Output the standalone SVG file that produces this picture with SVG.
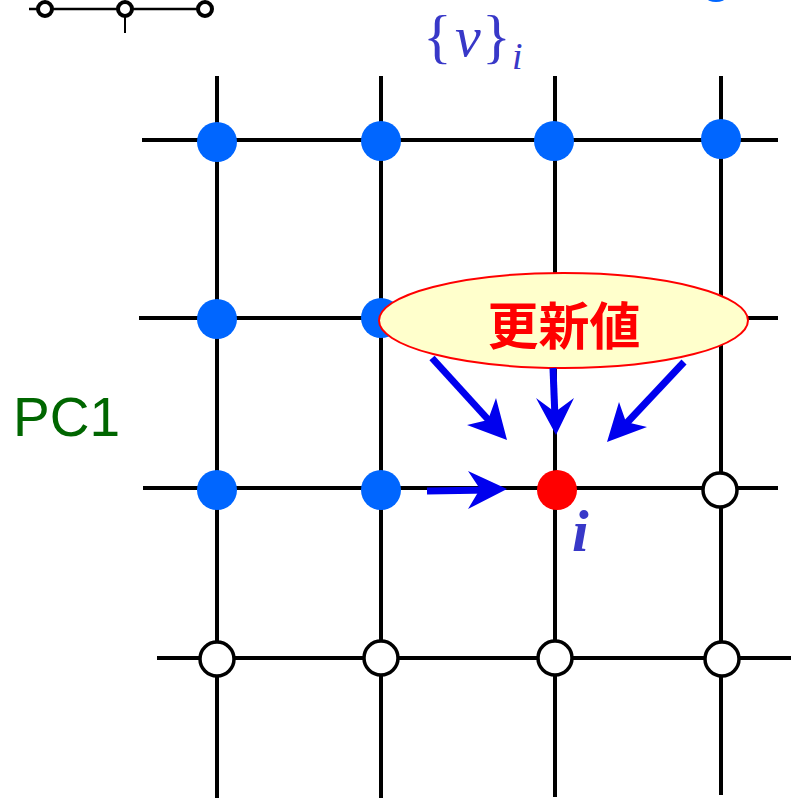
<svg xmlns="http://www.w3.org/2000/svg" width="791" height="799" viewBox="0 0 791 799">
<style>
.grid{stroke:#000;stroke-width:4;fill:none}
.blue{fill:#0066FF}
.open{fill:#fff;stroke:#000;stroke-width:3.5}
.arr{stroke:#0000EE;stroke-width:7;fill:none}
.head{fill:#0000EE}
.lbl{font-family:"Liberation Serif","Times New Roman",serif;fill:#3838C8}
</style>
<rect width="791" height="799" fill="#fff"/>
<g id="legend">
<line x1="29" y1="9" x2="205" y2="9" stroke="#000" stroke-width="2.5"/>
<line x1="125" y1="9" x2="125" y2="33" stroke="#000" stroke-width="2"/>
<circle cx="45" cy="9" r="7" fill="#fff" stroke="#000" stroke-width="4"/>
<circle cx="125" cy="9" r="7" fill="#fff" stroke="#000" stroke-width="4"/>
<circle cx="205" cy="9" r="7" fill="#fff" stroke="#000" stroke-width="4"/>
<circle cx="716" cy="-16" r="18" class="blue"/>
</g>
<g id="connectors">
<g class="grid">
<line x1="217" y1="76" x2="217" y2="798"/>
<line x1="381" y1="76" x2="381" y2="798"/>
<line x1="555" y1="76" x2="555" y2="797"/>
<line x1="721" y1="76" x2="721" y2="795"/>
<line x1="142" y1="140" x2="778" y2="140"/>
<line x1="139" y1="318" x2="778" y2="318"/>
<line x1="143" y1="488" x2="778" y2="488"/>
<line x1="157" y1="658" x2="791" y2="658"/>
</g>
</g>
<g id="nodes-row1">
<circle id="n11" cx="217" cy="142" r="20" class="blue"/>
<circle id="n12" cx="381" cy="141" r="20" class="blue"/>
<circle id="n13" cx="554" cy="141" r="20" class="blue"/>
<circle id="n14" cx="721" cy="139" r="20" class="blue"/>
</g>
<g id="nodes-row2">
<circle id="n21" cx="217" cy="319" r="20" class="blue"/>
<circle id="n22" cx="381" cy="318" r="20" class="blue"/>
</g>
<g id="nodes-row3">
<circle id="n31" cx="217" cy="490" r="20" class="blue"/>
<circle id="n32" cx="381" cy="490" r="20" class="blue"/>
<circle id="n33" cx="557" cy="490" r="20" fill="#FF0000"/>
<circle id="n34" cx="720" cy="490" r="17" class="open"/>
</g>
<g id="nodes-row4">
<circle id="n41" cx="217" cy="659" r="17" class="open"/>
<circle id="n42" cx="381" cy="658" r="17" class="open"/>
<circle id="n43" cx="555" cy="658" r="17" class="open"/>
<circle id="n44" cx="722" cy="659" r="17" class="open"/>
</g>
<g id="update-value">
<ellipse cx="563.5" cy="320.5" rx="184.5" ry="47.5" fill="#FFFFCC" stroke="#FF0000" stroke-width="2"/>
<text x="564" y="345" text-anchor="middle" font-family="'Noto Sans CJK JP','Noto Sans CJK SC',sans-serif" font-weight="bold" font-size="51" fill="#FF0000">更新値</text>
</g>
<g id="arrows">
<line class="arr" x1="432" y1="358" x2="494" y2="426"/>
<polygon class="head" points="507,440 467,425 488,420 496,398"/>
<line class="arr" x1="553" y1="368" x2="555" y2="418"/>
<polygon class="head" points="556,435 536,398 555,412 574,398"/>
<line class="arr" x1="684" y1="362" x2="622" y2="428"/>
<polygon class="head" points="607,442 619,402 626,422 647,427"/>
<line class="arr" x1="427" y1="491" x2="490" y2="490"/>
<polygon class="head" points="507,489 468,471 480,489 468,509"/>
</g>
<g id="labels">
<text class="lbl" x="572" y="551" font-size="60" font-style="italic" font-weight="bold">i</text>
<text class="lbl" x="423" y="56" font-size="60">{</text>
<text class="lbl" x="455" y="56" font-size="58" font-style="italic">v</text>
<text class="lbl" x="482" y="56" font-size="60">}</text>
<text class="lbl" x="512" y="69" font-size="38" font-style="italic">i</text>
<text x="13" y="436" font-family="'Liberation Sans',Arial,sans-serif" font-size="55" fill="#006600">PC1</text>
</g>
</svg>
